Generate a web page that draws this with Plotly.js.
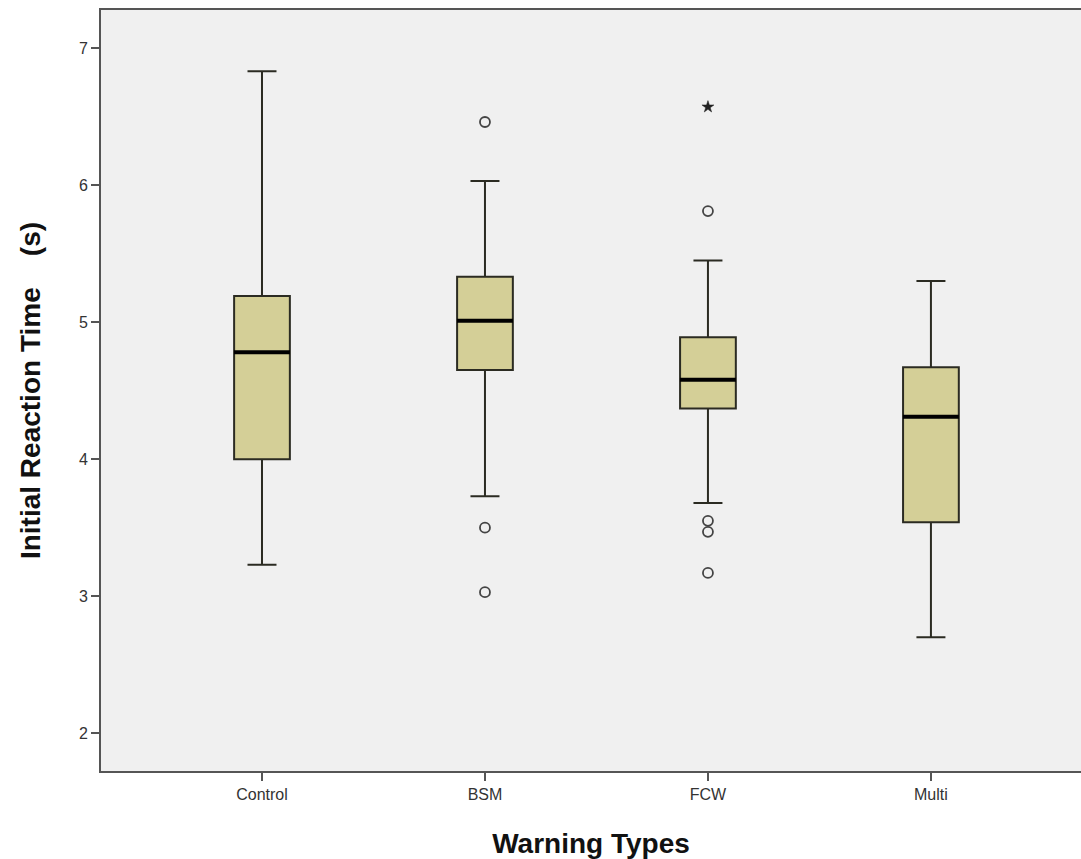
<!DOCTYPE html>
<html>
<head>
<meta charset="utf-8">
<script src="https://cdn.plot.ly/plotly-3.0.1.min.js"></script>
<style>
  html, body { margin: 0; padding: 0; background: #ffffff; }
  #chart { width: 1081px; height: 859px; }
</style>
</head>
<body>
<div id="chart"></div>
<script>
// ---- Data ----
const categories = ["Control", "BSM", "FCW", "Multi"];
const lowerWhisker = [3.23, 3.73, 3.68, 2.70];
const q1Values     = [4.00, 4.65, 4.37, 3.54];
const medianValues = [4.78, 5.01, 4.58, 4.31];
const q3Values     = [5.19, 5.33, 4.89, 4.67];
const upperWhisker = [6.83, 6.03, 5.45, 5.30];

// outliers (open circles)
const outlierCats   = ["BSM", "BSM", "BSM", "FCW", "FCW", "FCW", "FCW"];
const outlierValues = [6.46, 3.50, 3.03, 5.81, 3.55, 3.47, 3.17];

// extreme values (stars)
const extremeCats   = ["FCW"];
const extremeValues = [6.57];

const yTickVals = [2, 3, 4, 5, 6, 7];

// ---- Traces ----
const boxTrace = {
  type: "box",
  x: categories,
  q1: q1Values,
  median: medianValues,
  q3: q3Values,
  lowerfence: lowerWhisker,
  upperfence: upperWhisker,
  boxpoints: false,
  width: 0.25,
  whiskerwidth: 0.52,
  fillcolor: "#d4cf97",
  line: { color: "#2b2b22", width: 2 },
  hoverinfo: "skip",
  showlegend: false
};

const medianTrace = {
  type: "scatter",
  mode: "markers",
  x: categories,
  y: medianValues,
  marker: {
    symbol: "line-ew",
    size: 40,
    color: "#000000",
    line: { color: "#000000", width: 4 }
  },
  hoverinfo: "skip",
  showlegend: false
};

const outlierTrace = {
  type: "scatter",
  mode: "markers",
  x: outlierCats,
  y: outlierValues,
  marker: {
    symbol: "circle-open",
    size: 10,
    color: "#444444",
    line: { color: "#444444", width: 1.8 }
  },
  showlegend: false
};

const extremeTrace = {
  type: "scatter",
  mode: "markers",
  x: extremeCats,
  y: extremeValues,
  marker: {
    symbol: "star",
    size: 9,
    color: "#222222",
    line: { color: "#222222", width: 0.5 }
  },
  showlegend: false
};

const fontFam = "Liberation Sans, Arial, sans-serif";

const layout = {
  width: 1081,
  height: 859,
  margin: { l: 101, r: 0, t: 10, b: 88 },
  paper_bgcolor: "#ffffff",
  plot_bgcolor: "#f0f0f0",
  font: { family: fontFam, color: "#333333" },
  showlegend: false,
  xaxis: {
    type: "category",
    categoryorder: "array",
    categoryarray: categories,
    range: [-0.722, 3.673],
    showgrid: false,
    zeroline: false,
    showline: true,
    linecolor: "#555555",
    linewidth: 2,
    mirror: true,
    ticks: "outside",
    ticklen: 8,
    tickwidth: 2,
    tickcolor: "#555555",
    tickfont: { size: 16, color: "#333333", family: fontFam },
    title: {
      text: "Warning Types",
      font: { size: 28, color: "#111111", family: fontFam, weight: "bold" },
      standoff: 31
    }
  },
  yaxis: {
    range: [1.725, 7.277],
    tickvals: yTickVals,
    showgrid: false,
    zeroline: false,
    showline: true,
    linecolor: "#555555",
    linewidth: 2,
    mirror: false,
    ticks: "outside",
    ticklen: 8,
    tickwidth: 2,
    tickcolor: "#555555",
    tickfont: { size: 16, color: "#333333", family: fontFam },
    title: {
      text: "Initial Reaction Time\u00A0\u00A0\u00A0\u00A0(s)",
      font: { size: 28, color: "#111111", family: fontFam, weight: "bold" },
      standoff: 30
    }
  }
};

Plotly.newPlot("chart", [boxTrace, medianTrace, outlierTrace, extremeTrace], layout, { displayModeBar: false, staticPlot: true });
</script>
</body>
</html>
